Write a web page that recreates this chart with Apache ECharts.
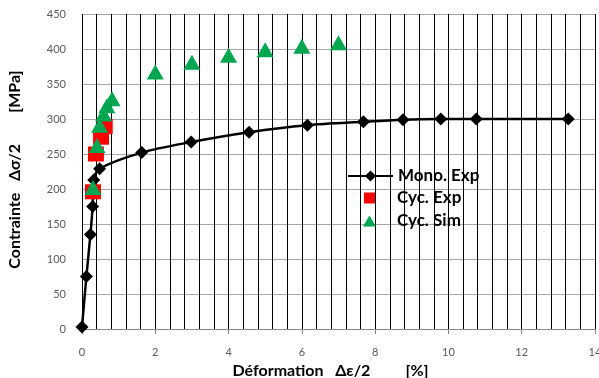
<!DOCTYPE html>
<html>
<head>
<meta charset="utf-8">
<script src="https://cdn.jsdelivr.net/npm/echarts@6/dist/echarts.min.js"></script>
<style>html,body{margin:0;padding:0;background:#fff}#c{width:599px;height:378px}</style>
</head>
<body>
<div id="c"></div>
<script>
var monoX = [0.0, 0.12, 0.23, 0.29, 0.32, 0.48, 1.63, 2.98, 4.56, 6.15, 7.68, 8.76, 9.79, 10.76, 13.27];
var monoY = [3, 75, 135, 175, 213, 229, 252, 267, 281, 291, 296, 299, 300, 300, 300];
var cycExpX = [0.3, 0.38, 0.52, 0.62];
var cycExpY = [196, 250, 274, 289];
var cycSimX = [0.3, 0.41, 0.48, 0.59, 0.68, 0.82, 2.0, 3.0, 4.0, 5.0, 6.0, 7.0];
var cycSimY = [202, 262, 291, 307, 319, 329, 367, 381, 391, 399, 404, 409];
var xTicks = [0, 2, 4, 6, 8, 10, 12, 14];
var yTicks = [0, 50, 100, 150, 200, 250, 300, 350, 400, 450];

function pairs(xs, ys) { return xs.map(function (x, i) { return [x, ys[i]]; }); }

var chart = echarts.init(document.getElementById('c'), null, {renderer: 'canvas'});
var font = 'Lato, "Liberation Sans", sans-serif';
var legendText = {fontFamily: font, fontWeight: 'bold', fontSize: 17, lineHeight: 18, color: '#000'};
chart.setOption({
  animation: false,
  backgroundColor: '#fff',
  grid: {left: 82, right: 4, top: 14, bottom: 49, containLabel: false, outerBoundsMode: 'none'},
  xAxis: {
    type: 'value', min: xTicks[0], max: xTicks[xTicks.length - 1], interval: 2,
    name: 'Déformation   Δε/2         [%]', nameLocation: 'middle', nameGap: 32,
    nameTextStyle: {fontFamily: font, fontWeight: 'bold', fontSize: 16, color: '#000', padding: [0, 16, 0, 0]},
    axisLine: {lineStyle: {color: '#868686', width: 1}},
    axisTick: {show: true, length: 5, lineStyle: {color: '#868686'}},
    axisLabel: {margin: 18, fontFamily: font, fontSize: 11, color: '#595959'},
    splitLine: {show: true, lineStyle: {color: '#000', width: 1}},
    minorTick: {show: false, splitNumber: 5},
    minorSplitLine: {show: true, lineStyle: {color: '#000', width: 1}}
  },
  yAxis: {
    type: 'value', min: yTicks[0], max: yTicks[yTicks.length - 1], interval: 50,
    name: 'Contrainte   Δσ/2        [MPa]', nameLocation: 'middle', nameGap: 59,
    nameTextStyle: {fontFamily: font, fontWeight: 'bold', fontSize: 16, color: '#000', padding: [0, 0, 0, 4]},
    axisLine: {show: false},
    axisTick: {show: false},
    axisLabel: {margin: 16, fontFamily: font, fontSize: 11, color: '#595959'},
    splitLine: {show: true, lineStyle: {color: '#A6A6A6', width: 1}}
  },
  legend: [
    {
      left: 347, top: 167, padding: 0, itemWidth: 45, itemHeight: 14,
      textStyle: legendText, data: [{name: 'Mono. Exp'}]
    },
    {
      left: 364, top: 189, padding: 0, itemWidth: 11, itemHeight: 11,
      textStyle: Object.assign({padding: [0, 0, 0, 17]}, legendText), data: [{name: 'Cyc. Exp', icon: 'rect'}]
    },
    {
      left: 363, top: 212, padding: 0, itemWidth: 13, itemHeight: 11,
      textStyle: Object.assign({padding: [0, 0, 0, 16]}, legendText), data: [{name: 'Cyc. Sim', icon: 'triangle'}]
    }
  ],
  series: [
    {
      name: 'Mono. Exp', type: 'line', smooth: 0.3, data: pairs(monoX, monoY),
      symbol: 'diamond', symbolSize: 13, symbolKeepAspect: true,
      lineStyle: {color: '#000', width: 2.5}, itemStyle: {color: '#000'}, z: 3
    },
    {
      name: 'Cyc. Exp', type: 'scatter', data: pairs(cycExpX, cycExpY),
      symbol: 'rect', symbolSize: [16, 15], symbolKeepAspect: true,
      itemStyle: {color: '#FF0000', opacity: 1}, z: 4
    },
    {
      name: 'Cyc. Sim', type: 'scatter', data: pairs(cycSimX, cycSimY),
      symbol: 'triangle', symbolSize: [17, 15], symbolKeepAspect: true,
      itemStyle: {color: '#00A650', opacity: 1}, z: 5
    }
  ]
});
</script>
</body>
</html>
